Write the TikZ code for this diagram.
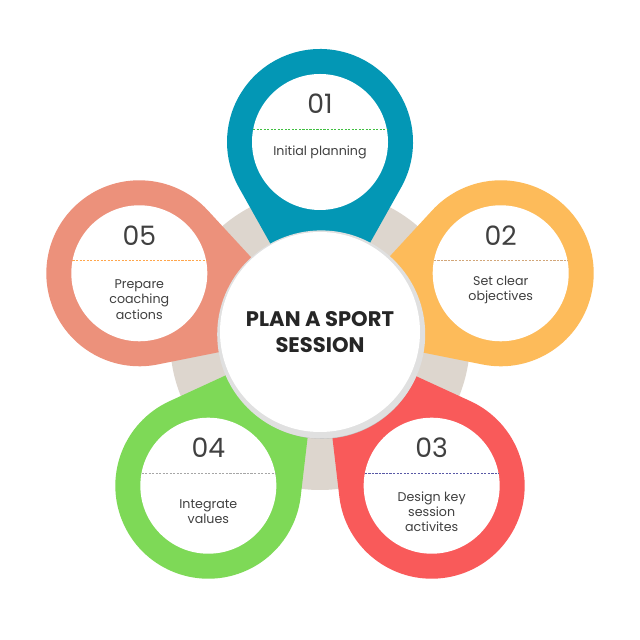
\documentclass[tikz,border=0pt]{standalone}
\usepackage{fontspec}
\setmainfont{Poppins}
\usetikzlibrary{calc}
\definecolor{cA}{HTML}{0397B5}
\definecolor{cB}{HTML}{FDBB5A}
\definecolor{cC}{HTML}{F95A5A}
\definecolor{cD}{HTML}{7ED957}
\definecolor{cE}{HTML}{EC917B}
\definecolor{beige}{HTML}{DDD6CE}
\definecolor{txt}{HTML}{404040}
\newcommand{\petalring}[3]{%
  \coordinate (#3) at ($(C)+(#1:4.75)$);
  \fill[#2] (#3) ++(#1+240.7:2.325) arc[start angle=#1+240.7, end angle=#1+479.3, radius=2.325] -- (C) -- cycle;
  \fill[white] (#3) circle[radius=1.7];
}
\tikzset{num/.style={font=\fontsize{19}{19}\selectfont, text=txt},
  lab/.style={font=\fontsize{9}{11}\selectfont, text=txt, align=center},
  sep/.style={dashed, line width=0.5pt, dash pattern=on 1.5pt off 1pt}}
\begin{document}
\begin{tikzpicture}
\useasboundingbox[fill=white] (0,0) rectangle (16,16);
\coordinate (C) at (8,7.7);
\fill[beige] ($(C)+(0,-0.2)$) circle[radius=3.75];
\petalring{90}{cA}{P1}
\petalring{18}{cB}{P2}
\petalring{-54}{cC}{P3}
\petalring{234}{cD}{P4}
\petalring{162}{cE}{P5}
\fill[black!25] ($(C)+(0.05,-0.12)$) circle[radius=2.55];
\fill[black!12] ($(C)+(0.03,-0.06)$) circle[radius=2.6];
\node[circle, fill=white, minimum size=5cm, inner sep=0pt, font=\fontsize{15}{18}\selectfont\bfseries, text=black!85, align=center] (ctr) at (C) {PLAN A SPORT\\SESSION};
% texts
\node[num] (n1) at ($(P1)+(0,0.95)$) {01};
\draw[sep, green!50!gray] ($(P1)+(-1.67,0.32)$) -- ($(P1)+(1.67,0.32)$);
\node[lab] (l1) at ($(P1)+(0,-0.25)$) {Initial planning};
\node[num] (n2) at ($(P2)+(0,0.95)$) {02};
\draw[sep, brown!70] ($(P2)+(-1.67,0.32)$) -- ($(P2)+(1.67,0.32)$);
\node[lab] (l2) at ($(P2)+(0,-0.42)$) {Set clear\\objectives};
\node[num] (n3) at ($(P3)+(0,0.95)$) {03};
\draw[sep, blue!30!gray] ($(P3)+(-1.67,0.32)$) -- ($(P3)+(1.67,0.32)$);
\node[lab] (l3) at ($(P3)+(0,-0.65)$) {Design key\\session\\activites};
\node[num] (n4) at ($(P4)+(0,0.95)$) {04};
\draw[sep, gray!70] ($(P4)+(-1.67,0.32)$) -- ($(P4)+(1.67,0.32)$);
\node[lab] (l4) at ($(P4)+(0,-0.65)$) {Integrate\\values};
\node[num] (n5) at ($(P5)+(0,0.95)$) {05};
\draw[sep, orange!70] ($(P5)+(-1.67,0.32)$) -- ($(P5)+(1.67,0.32)$);
\node[lab] (l5) at ($(P5)+(0,-0.65)$) {Prepare\\coaching\\actions};
\end{tikzpicture}
\end{document}
